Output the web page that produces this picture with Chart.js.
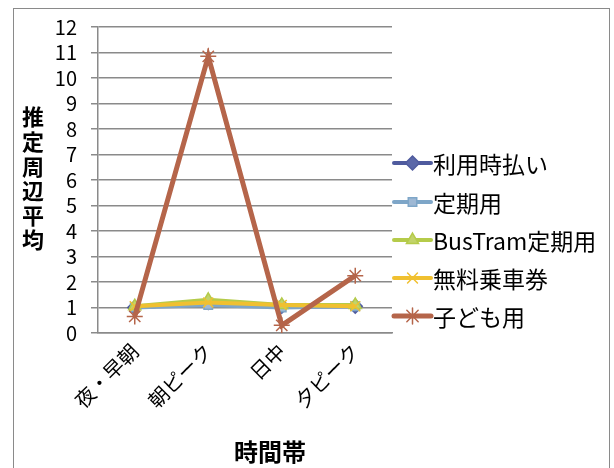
<!DOCTYPE html>
<html>
<head>
<meta charset="utf-8">
<script src="https://cdn.jsdelivr.net/npm/chart.js@4"></script>
<style>
  html, body { margin: 0; padding: 0; background: #fff; }
  #wrap { width: 614px; height: 468px; }
</style>
</head>
<body>
<div id="wrap"><canvas id="myChart" width="614" height="468"></canvas></div>
<script>
// 時間帯ごとの推定周辺平均
const timeBands = ['夜・早朝', '朝ピーク', '日中', '夕ピーク'];
const payPerRide = [1.0, 1.2, 1.05, 1.05];
const commuterPass = [1.0, 1.1, 1.0, 1.05];
const busTramPass = [1.05, 1.3, 1.1, 1.1];
const freeTicket = [1.05, 1.2, 1.1, 1.05];
const childFare = [0.65, 10.85, 0.3, 2.25];
const yTicks = [0, 1, 2, 3, 4, 5, 6, 7, 8, 9, 10, 11, 12];

const FONT = '"Noto Sans CJK JP", "Noto Sans", sans-serif';

function series(label, data, color, fill, style, radius, order) {
  return {
    label: label,
    data: data,
    borderColor: color,
    backgroundColor: fill,
    borderWidth: 4,
    pointStyle: style,
    pointRadius: radius,
    pointBorderColor: color,
    pointBackgroundColor: fill,
    pointBorderWidth: 1.5,
    tension: 0,
    order: order,
  };
}

const datasets = [
  series('利用時払い', payPerRide, '#4f5b9e', '#5a67a8', 'rectRot', 7, 5),
  series('定期用', commuterPass, '#7ea6c8', '#9eb8d4', 'rect', 6, 4),
  series('BusTram定期用', busTramPass, '#b5cb4a', '#c2d36a', 'triangle', 7, 3),
  series('無料乗車券', freeTicket, '#f0c030', '#f0c030', 'crossRot', 7, 2),
  series('子ども用', childFare, '#b5654a', '#b5654a', 'star', 8, 1),
];
datasets[4].borderWidth = 5;

// 外枠・縦書きの軸タイトル・凡例をまとめて描く
const decorations = {
  id: 'decorations',
  beforeDraw(chart) {
    const ctx = chart.ctx;
    ctx.save();
    ctx.fillStyle = '#fff';
    ctx.fillRect(0, 0, chart.width, chart.height);
    ctx.strokeStyle = '#8a8a8a';
    ctx.lineWidth = 1;
    ctx.strokeRect(13.5, 8.5, 596, 480);
    ctx.restore();
  },
  afterDraw(chart) {
    const ctx = chart.ctx;
    ctx.save();
    ctx.fillStyle = '#000';
    ctx.textAlign = 'center';
    ctx.textBaseline = 'middle';

    // y軸タイトル（縦書き）
    ctx.font = 'bold 22px ' + FONT;
    const yTitle = '推定周辺平均';
    for (let i = 0; i < yTitle.length; i++) {
      ctx.fillText(yTitle[i], 33, 117 + i * 24.6);
    }

    // x軸タイトル
    ctx.font = 'bold 24px ' + FONT;
    ctx.fillText('時間帯', 270, 452);

    // 凡例
    const rowY = [163, 202, 240, 278, 316];
    ctx.textAlign = 'left';
    ctx.font = '23px ' + FONT;
    chart.data.datasets.forEach((ds, i) => {
      const y = rowY[i];
      ctx.strokeStyle = ds.borderColor;
      ctx.lineWidth = ds.borderWidth;
      ctx.lineCap = 'round';
      ctx.beginPath();
      ctx.moveTo(394, y);
      ctx.lineTo(431, y);
      ctx.stroke();
      ctx.fillStyle = ds.pointBackgroundColor;
      ctx.strokeStyle = ds.pointBorderColor;
      ctx.lineWidth = ds.pointBorderWidth;
      Chart.helpers.drawPoint(ctx, {
        pointStyle: ds.pointStyle,
        radius: ds.pointRadius,
        rotation: 0,
        borderWidth: ds.pointBorderWidth,
      }, 412.5, y);
      ctx.fillStyle = '#000';
      ctx.fillText(ds.label, 433, y + 1);
    });
    ctx.restore();
  },
};

const chartConfig = {
  type: 'line',
  data: { labels: timeBands, datasets: datasets },
  options: {
    responsive: false,
    animation: false,
    layout: { padding: { left: 0, right: 222, top: 27, bottom: 0 } },
    plugins: {
      legend: { display: false },
      tooltip: { enabled: false },
    },
    scales: {
      x: {
        offset: true,
        grid: { display: false, drawTicks: false },
        border: { display: true, color: '#8a8a8a', width: 1.5 },
        ticks: {
          color: '#000',
          font: { family: FONT, size: 20 },
          minRotation: 45,
          maxRotation: 45,
          autoSkip: false,
          padding: 6,
        },
        afterFit(scale) { scale.height = 135; },
      },
      y: {
        min: 0,
        max: 12,
        afterBuildTicks(scale) { scale.ticks = yTicks.map((v) => ({ value: v })); },
        grid: { color: '#8a8a8a', lineWidth: 1.5, tickLength: 7 },
        border: { display: true, color: '#8a8a8a', width: 1.5 },
        ticks: {
          color: '#000',
          font: { family: FONT, size: 20 },
          autoSkip: false,
          padding: 14,
        },
        afterFit(scale) { scale.width = 98; },
      },
    },
  },
  plugins: [decorations],
};

new Chart(document.getElementById('myChart').getContext('2d'), chartConfig);
</script>
</body>
</html>
